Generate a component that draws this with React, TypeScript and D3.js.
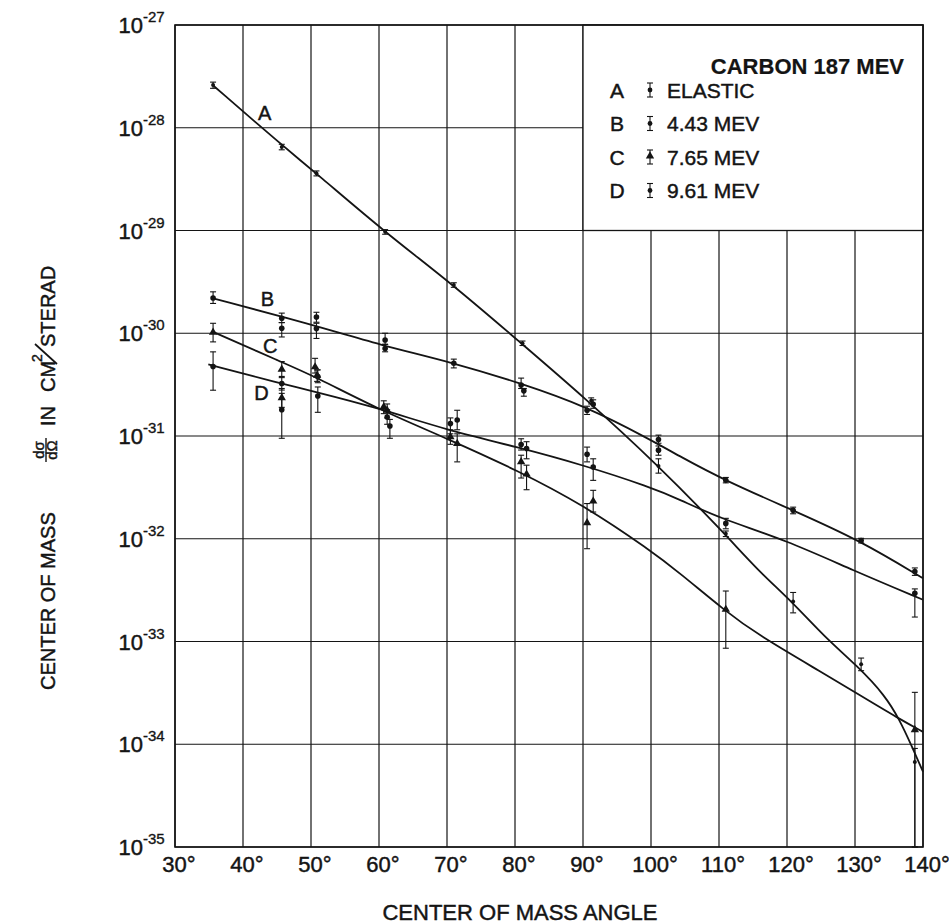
import React from "react";
import * as d3 from "d3";

// measured points: [angle, value, errLow, errHigh]
type Pt = [number, number, number, number];

const elasticPts: Pt[] = [
  [35.6, 2.6e-28, 2.42e-28, 2.78e-28],
  [45.7, 6.5e-29, 6.1e-29, 6.9e-29],
  [50.8, 3.6e-29, 3.4e-29, 3.8e-29],
  [60.9, 9.7e-30, 9.2e-30, 1.02e-29],
  [71.0, 2.95e-30, 2.8e-30, 3.1e-30],
  [81.1, 8.0e-31, 7.6e-31, 8.4e-31],
  [91.2, 2.2e-31, 2.05e-31, 2.35e-31],
  [101.1, 5.1e-32, 4.35e-32, 6.0e-32],
  [111.0, 1.12e-32, 1.05e-32, 1.19e-32],
  [120.9, 2.45e-33, 1.9e-33, 3.0e-33],
  [130.9, 6.0e-34, 5.2e-34, 6.9e-34],
  [138.8, 6.7e-35, 1e-35, 9.1e-35],
];

const mev443Pts: Pt[] = [
  [35.6, 2.2e-30, 1.95e-30, 2.53e-30],
  [45.7, 1.4e-30, 1.27e-30, 1.57e-30],
  [45.7, 1.12e-30, 9.2e-31, 1.27e-30],
  [50.8, 1.44e-30, 1.28e-30, 1.6e-30],
  [50.8, 1.11e-30, 8.9e-31, 1.25e-30],
  [60.9, 8.6e-31, 7.8e-31, 1.0e-30],
  [60.9, 7.1e-31, 6.6e-31, 7.8e-31],
  [71.0, 5.1e-31, 4.6e-31, 5.6e-31],
  [80.9, 3.13e-31, 2.9e-31, 3.66e-31],
  [81.3, 2.75e-31, 2.44e-31, 2.9e-31],
  [90.6, 1.78e-31, 1.62e-31, 1.95e-31],
  [91.5, 2.04e-31, 1.86e-31, 2.25e-31],
  [101.1, 9.25e-32, 8.5e-32, 1.02e-31],
  [101.1, 7.28e-32, 6.5e-32, 8.0e-32],
  [111.0, 3.7e-32, 3.5e-32, 3.95e-32],
  [120.9, 1.89e-32, 1.75e-32, 2.03e-32],
  [130.9, 9.6e-33, 9.1e-33, 1.01e-32],
  [138.8, 4.8e-33, 4.4e-33, 5.2e-33],
];

const mev765Pts: Pt[] = [
  [35.6, 1.02e-30, 8.24e-31, 1.25e-30],
  [45.7, 4.45e-31, 3.7e-31, 5.3e-31],
  [45.7, 2.35e-31, 1.9e-31, 2.9e-31],
  [50.6, 4.7e-31, 4.1e-31, 5.7e-31],
  [50.9, 3.9e-31, 3.4e-31, 4.4e-31],
  [60.7, 1.92e-31, 1.65e-31, 2.2e-31],
  [61.2, 1.78e-31, 1.5e-31, 2.05e-31],
  [70.5, 9.8e-32, 8.3e-32, 1.15e-31],
  [71.5, 8.45e-32, 5.6e-32, 1.05e-31],
  [80.9, 5.6e-32, 3.9e-32, 6.5e-32],
  [81.7, 4.25e-32, 3.0e-32, 5.2e-32],
  [90.6, 1.43e-32, 8.0e-33, 2.2e-32],
  [91.5, 2.32e-32, 1.82e-32, 2.96e-32],
  [111.0, 2.05e-33, 8.6e-34, 3.1e-33],
  [138.8, 1.38e-34, 1e-35, 3.2e-34],
];

const mev961Pts: Pt[] = [
  [35.6, 4.75e-31, 2.79e-31, 6.59e-31],
  [45.7, 3.24e-31, 2.8e-31, 3.8e-31],
  [45.7, 1.8e-31, 9.5e-32, 2.6e-31],
  [51.0, 3.8e-31, 3.3e-31, 4.4e-31],
  [51.0, 2.45e-31, 1.7e-31, 3.0e-31],
  [61.2, 1.53e-31, 1.3e-31, 1.8e-31],
  [61.6, 1.25e-31, 9.5e-32, 1.45e-31],
  [70.5, 1.32e-31, 1.05e-31, 1.5e-31],
  [71.5, 1.43e-31, 1.15e-31, 1.78e-31],
  [80.9, 8.26e-32, 7.3e-32, 9.4e-32],
  [81.7, 7.55e-32, 6.0e-32, 8.8e-32],
  [90.6, 6.65e-32, 5.6e-32, 7.8e-32],
  [91.5, 5.0e-32, 3.7e-32, 6.0e-32],
  [111.0, 1.41e-32, 1.25e-32, 1.58e-32],
  [138.8, 2.95e-33, 1.73e-33, 3.25e-33],
];

// drawn fit curves: [angle, value]
const elasticFit: [number, number][] = [
  [35.7, 2.55e-28], [45.8, 6.7e-29], [50.9, 3.55e-29], [60.8, 9.7e-30],
  [70.8, 3.0e-30], [80.8, 8.1e-31], [90.1, 2.4e-31], [100.9, 5.3e-32],
  [110.8, 1.13e-32], [115.7, 4.93e-33], [120.7, 2.46e-33],
  [125.5, 1.11e-33], [130.4, 5.74e-34], [134.4, 3.0e-34], [136.6, 1.71e-34],
  [138.3, 9.75e-35], [140, 5.4e-35],
];
const mev443Fit: [number, number][] = [
  [35.6, 2.19e-30], [50, 1.22e-30], [60.2, 7.66e-31], [70.8, 5.2e-31],
  [80.9, 3.25e-31], [90.4, 1.95e-31], [99.8, 9.3e-32], [104.3, 6.3e-32],
  [110.8, 3.71e-32], [120.9, 1.89e-32], [130.7, 9.66e-33], [140, 4.12e-33],
];
const mev765Fit: [number, number][] = [
  [35.6, 1.03e-30], [45.6, 5.27e-31], [50.5, 3.82e-31], [60.2, 1.78e-31],
  [70.0, 9.46e-32], [80.3, 4.65e-32], [90.1, 2.12e-32], [99.8, 7.8e-33],
  [104.3, 4.6e-33], [110.8, 2.01e-33], [115.8, 1.15e-33], [125.6, 4.8e-34],
  [130.0, 3.2e-34], [136.6, 1.75e-34], [140, 1.32e-34],
];
const mev961Fit: [number, number][] = [
  [34.9, 4.97e-31], [45.6, 3.24e-31], [50.1, 2.75e-31], [60.2, 1.85e-31],
  [70.0, 1.14e-31], [80.3, 7.83e-32], [90.1, 5.2e-32], [99.8, 3.2e-32],
  [104.3, 2.4e-32], [109.9, 1.6e-32], [119.9, 9.67e-33], [129.7, 4.93e-33],
  [140, 2.55e-33],
];

const xTicks = [30, 40, 50, 60, 70, 80, 90, 100, 110, 120, 130, 140];
const yExps = [-35, -34, -33, -32, -31, -30, -29, -28, -27];

const legendRows = [
  { key: "A", label: "ELASTIC", shape: "dot" },
  { key: "B", label: "4.43 MEV", shape: "dot" },
  { key: "C", label: "7.65 MEV", shape: "tri" },
  { key: "D", label: "9.61 MEV", shape: "dot" },
];

const curveLabels = [
  { key: "A", at: [43.2, 1.39e-28] },
  { key: "B", at: [43.6, 2.15e-30] },
  { key: "C", at: [44.0, 7.55e-31] },
  { key: "D", at: [42.7, 2.65e-31] },
];

const FONT = "'Liberation Sans', Arial, sans-serif";
const INK = "#141414";
const TXT = { fill: INK, stroke: INK, strokeWidth: 0.45 };

const x = d3.scaleLinear().domain([30, 140]).range([175, 923]);
const y = d3.scaleLog().domain([1e-35, 1e-27]).range([847, 25]);

const line = d3
  .line<[number, number]>()
  .x((d) => x(d[0]))
  .y((d) => y(d[1]))
  .curve(d3.curveBasis);

const triPath = d3.symbol(d3.symbolTriangle, 30)() || "";

const ErrBar = ({ cx, y0, y1 }: { cx: number; y0: number; y1: number }) => (
  <g stroke={INK} strokeWidth={1.1}>
    <line x1={cx} x2={cx} y1={y0} y2={y1} />
    <line x1={cx - 3} x2={cx + 3} y1={y0} y2={y0} />
    <line x1={cx - 3} x2={cx + 3} y1={y1} y2={y1} />
  </g>
);

const Marker = ({ cx, cy, shape, r = 2.8 }: { cx: number; cy: number; shape: string; r?: number }) =>
  shape === "tri" ? (
    <path d={triPath} transform={`translate(${cx},${cy})`} fill={INK} />
  ) : (
    <circle cx={cx} cy={cy} r={r} fill={INK} />
  );

const Series = ({ pts, shape, r }: { pts: Pt[]; shape: string; r?: number }) => (
  <g>
    {pts.map((p, i) => (
      <g key={i}>
        <ErrBar cx={x(p[0])} y0={y(p[3])} y1={Math.min(y(p[2]), 847)} />
        <Marker cx={x(p[0])} cy={y(p[1])} shape={shape} r={r} />
      </g>
    ))}
  </g>
);

export default function App() {
  const left = x(30);
  const right = x(140);
  const top = y(1e-27);
  const bottom = y(1e-35);

  return (
    <svg
      width={949}
      height={924}
      style={{ position: "absolute", left: 0, top: 0, background: "#fff" }}
      fontFamily={FONT}
    >
      <rect width={949} height={924} fill="#fff" />

      {/* grid */}
      <g stroke={INK} strokeWidth={1.2}>
        {xTicks.map((t) => (
          <line key={t} x1={x(t)} x2={x(t)} y1={top} y2={bottom} />
        ))}
        {yExps.map((e) => (
          <line key={e} x1={left} x2={right} y1={y(Math.pow(10, e))} y2={y(Math.pow(10, e))} />
        ))}
      </g>

      {/* legend box */}
      <rect
        x={x(90)}
        y={top}
        width={x(140) - x(90)}
        height={y(1e-29) - top}
        fill="#fff"
        stroke={INK}
        strokeWidth={1.3}
      />
      <text x={904} y={74} textAnchor="end" fontSize={22} fontWeight="bold" {...TXT} strokeWidth={0.2}>
        CARBON 187 MEV
      </text>
      {legendRows.map((row, i) => {
        const cy = 90 + i * 33.5;
        return (
          <g key={row.key}>
            <text x={617} y={cy + 7.5} textAnchor="middle" fontSize={21} {...TXT}>
              {row.key}
            </text>
            <ErrBar cx={650} y0={cy - 7} y1={cy + 7} />
            <Marker cx={650} cy={row.shape === "tri" ? cy - 1 : cy} shape={row.shape} r={2.4} />
            <text x={667} y={cy + 7.5} fontSize={21} {...TXT}>
              {row.label}
            </text>
          </g>
        );
      })}

      {/* fitted curves */}
      <g fill="none" stroke={INK} strokeWidth={1.8}>
        <path d={line(elasticFit) || ""} />
        <path d={line(mev443Fit) || ""} />
        <path d={line(mev765Fit) || ""} />
        <path d={line(mev961Fit) || ""} />
      </g>

      {/* data */}
      <Series pts={elasticPts} shape="dot" r={2} />
      <Series pts={mev443Pts} shape="dot" />
      <Series pts={mev765Pts} shape="tri" />
      <Series pts={mev961Pts} shape="dot" />

      {curveLabels.map((c) => (
        <text
          key={c.key}
          x={x(c.at[0])}
          y={y(c.at[1]) + 7.2}
          textAnchor="middle"
          fontSize={20}
          {...TXT}
        >
          {c.key}
        </text>
      ))}

      {/* frame */}
      <rect x={left} y={top} width={right - left} height={bottom - top} fill="none" stroke={INK} strokeWidth={1.6} />

      {/* y tick labels */}
      {yExps.map((e) => {
        const py = y(Math.pow(10, e));
        return (
          <g key={e}>
            <text x={143} y={py + 8} textAnchor="end" fontSize={22} {...TXT}>
              10
            </text>
            <text x={143} y={py - 3} fontSize={15} {...TXT} strokeWidth={0.35}>
              {`-${Math.abs(e)}`}
            </text>
          </g>
        );
      })}

      {/* x tick labels */}
      {xTicks.map((t) => (
        <text key={t} x={x(t) + 4} y={872} textAnchor="middle" fontSize={22} {...TXT}>
          {`${t}°`}
        </text>
      ))}

      <text x={520} y={920} textAnchor="middle" fontSize={22} {...TXT}>
        CENTER OF MASS ANGLE
      </text>

      {/* y axis title */}
      <g transform="translate(55, 690) rotate(-90)">
        <text x={0} y={0} fontSize={20} {...TXT}>
          CENTER OF MASS
        </text>
        <text x={240} y={-11} textAnchor="middle" fontSize={15} {...TXT}>
          dσ
        </text>
        <line x1={228} x2={252} y1={-9} y2={-9} stroke={INK} strokeWidth={1.4} />
        <text x={240} y={1.5} textAnchor="middle" fontSize={15} {...TXT}>
          dΩ
        </text>
        <text x={264} y={0} fontSize={20} {...TXT}>
          IN
        </text>
        <text x={298} y={0} fontSize={20} {...TXT}>
          CM
        </text>
        <text x={328} y={-13} fontSize={14} {...TXT}>
          2
        </text>
        <line x1={326} x2={346} y1={2} y2={-20} stroke={INK} strokeWidth={1.7} />
        <text x={343} y={0} fontSize={20} {...TXT}>
          STERAD
        </text>
      </g>
    </svg>
  );
}
